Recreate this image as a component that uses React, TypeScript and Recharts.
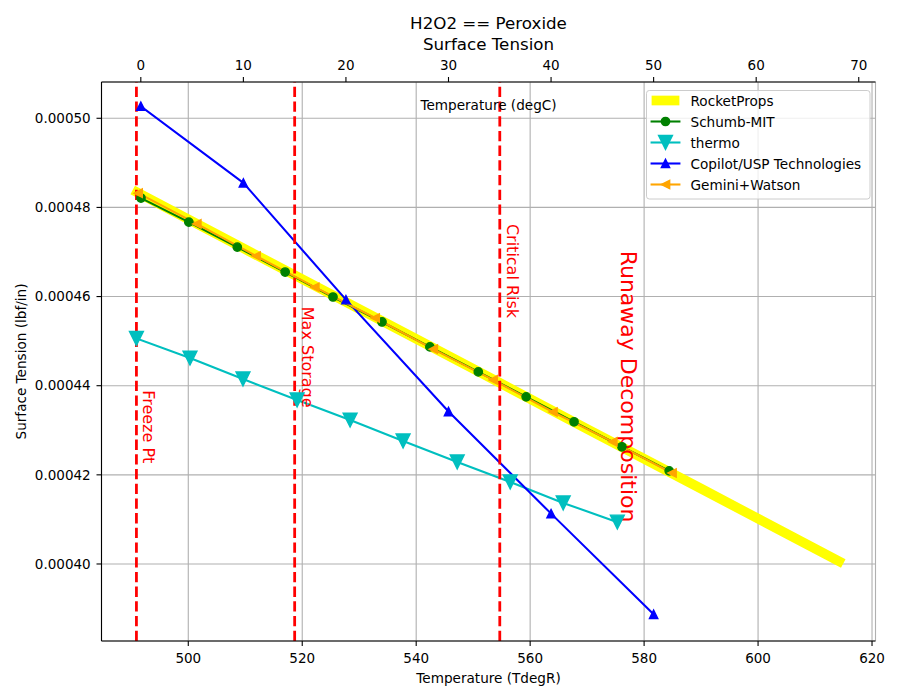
import React from 'react'
import {
  ComposedChart,
  Line,
  XAxis,
  YAxis,
  CartesianGrid,
  ReferenceLine,
  ReferenceDot,
  Legend,
} from 'recharts'

// temperatures in degR (Copilot in degC), surface tension in lbf/in
const rocketPropsT = [491.0, 510, 530, 550, 570, 590, 614.2]
const rocketPropsST = [0.0004834, 0.0004706, 0.0004572, 0.0004438, 0.0004303, 0.0004169, 0.0004006]

const schumbT = [491.7, 500.1, 508.6, 517.0, 525.4, 534.0, 542.4, 550.9, 559.3, 567.7, 576.1, 584.4]
const schumbST = [
  0.0004821, 0.0004767, 0.0004711, 0.0004655, 0.0004599, 0.0004543, 0.0004487, 0.0004431, 0.0004375,
  0.0004319, 0.0004263, 0.0004209,
]

const thermoT = [490.9, 500.3, 509.6, 519.1, 528.4, 537.7, 547.2, 556.5, 565.8, 575.3]
const thermoST = [
  0.0004506, 0.0004462, 0.0004415, 0.0004368, 0.0004323, 0.0004276, 0.0004229, 0.0004184, 0.0004137,
  0.0004094,
]

const copilotC = [0, 10, 20, 30, 40, 50]
const copilotST = [0.0005027, 0.0004855, 0.0004593, 0.0004342, 0.0004113, 0.0003887]

const geminiT = [491.2, 501.5, 511.9, 522.2, 532.8, 543.0, 553.5, 564.0, 574.5, 584.9]
const geminiST = [
  0.0004832, 0.0004763, 0.0004691, 0.0004621, 0.0004552, 0.0004482, 0.0004413, 0.0004341, 0.0004274,
  0.0004204,
]

// storage limits (degR) and where their notes sit (lbf/in)
const limitT = [490.9, 518.67, 554.67, 574.67]
const limitNames = ['Freeze Pt', 'Max Storage', 'Critical Risk', 'Runaway Decomposition']
const limitNoteST = [0.000439, 0.0004577, 0.0004763, 0.0004703]
const limitHasLine = [true, true, true, false]
const limitFontSize = [16, 16, 16, 22]

const tempRTicks = [500, 520, 540, 560, 580, 600, 620]
const tempCTicks = [0, 10, 20, 30, 40, 50, 60, 70]
const stTicks = [0.0004, 0.00042, 0.00044, 0.00046, 0.00048, 0.0005]

const xDomainR: [number, number] = [484.77, 620.61]
const degRtoC = (r: number) => (r - 491.67) / 1.8
const xDomainC: [number, number] = [degRtoC(xDomainR[0]), degRtoC(xDomainR[1])]
const yDomain: [number, number] = [0.00038272, 0.00050814]

type MarkerKind = 'none' | 'o' | 'v' | '^' | '<'

interface SeriesDef {
  name: string
  color: string
  width: number
  marker: MarkerKind
  size: number
  axis: 'R' | 'C'
  temps: number[]
  values: number[]
}

const series: SeriesDef[] = [
  { name: 'RocketProps', color: '#ffff00', width: 9.7, marker: 'none', size: 0, axis: 'R', temps: rocketPropsT, values: rocketPropsST },
  { name: 'Schumb-MIT', color: '#008000', width: 2.08, marker: 'o', size: 4.17, axis: 'R', temps: schumbT, values: schumbST },
  { name: 'thermo', color: '#00bfbf', width: 2.08, marker: 'v', size: 6.95, axis: 'R', temps: thermoT, values: thermoST },
  { name: 'Copilot/USP Technologies', color: '#0000ff', width: 2.08, marker: '^', size: 4.17, axis: 'C', temps: copilotC, values: copilotST },
  { name: 'Gemini+Watson', color: '#ffa500', width: 2.08, marker: '<', size: 4.17, axis: 'R', temps: geminiT, values: geminiST },
]

function drawMarker(kind: MarkerKind, cx: number, cy: number, s: number, color: string, key?: React.Key) {
  const common = { fill: color, stroke: color, strokeWidth: 1.39, strokeLinejoin: 'miter' as const }
  if (kind === 'o') return <circle key={key} cx={cx} cy={cy} r={s} {...common} />
  let pts = ''
  if (kind === 'v') pts = `${cx - s},${cy - s} ${cx + s},${cy - s} ${cx},${cy + s}`
  if (kind === '^') pts = `${cx - s},${cy + s} ${cx + s},${cy + s} ${cx},${cy - s}`
  if (kind === '<') pts = `${cx + s},${cy - s} ${cx + s},${cy + s} ${cx - s},${cy}`
  if (!pts) return <g key={key} />
  return <polygon key={key} points={pts} {...common} />
}

function LegendBox() {
  const rowH = 21
  return (
    <svg width={226} height={111} style={{ display: 'block' }}>
      <rect x={0.5} y={0.5} width={223.5} height={108.5} rx={2.8} fill="#ffffff" fillOpacity={0.8} stroke="#cccccc" strokeWidth={1} />
      {series.map((s, i) => {
        const cy = 10.5 + i * rowH
        return (
          <g key={s.name}>
            <line
              x1={5.6}
              x2={33.4}
              y1={cy}
              y2={cy}
              stroke={s.color}
              strokeWidth={s.width}
              strokeLinecap={s.marker === 'none' ? 'butt' : 'square'}
            />
            {drawMarker(s.marker, 19.5, cy, s.size, s.color)}
            <text x={44.5} y={cy} dominantBaseline="central" fontSize={13.6} fill="#000">
              {s.name}
            </text>
          </g>
        )
      })}
    </svg>
  )
}

export default function App() {
  const font = { fill: '#000', fontSize: 13.5 }

  return (
    <div
      style={{
        position: 'absolute',
        left: 0,
        top: 0,
        width: 900,
        height: 700,
        background: '#ffffff',
        fontFamily: '"DejaVu Sans", sans-serif',
      }}
    >
      <ComposedChart width={900} height={700} margin={{ top: 0, right: 24.5, bottom: 0, left: 0 }}>
        <CartesianGrid xAxisId="R" stroke="#b0b0b0" strokeWidth={1.1} />
        <XAxis
          xAxisId="R"
          dataKey="t"
          type="number"
          orientation="bottom"
          domain={xDomainR}
          allowDataOverflow
          ticks={tempRTicks}
          interval={0}
          height={59}
          tickSize={5}
          tickMargin={7.7}
          tick={font}
          axisLine={{ stroke: '#000', strokeWidth: 1.1 }}
          tickLine={{ stroke: '#000', strokeWidth: 1.1 }}
          label={(p: any) => {
            const vb = p.viewBox
            return (
              <text x={vb.x + vb.width / 2} y={683} textAnchor="middle" fontSize={13.6} fill="#000">
                Temperature (TdegR)
              </text>
            )
          }}
        />
        <XAxis
          xAxisId="C"
          dataKey="t"
          type="number"
          orientation="top"
          domain={xDomainC}
          allowDataOverflow
          ticks={tempCTicks}
          interval={0}
          height={82}
          tickSize={5}
          tickMargin={7}
          tick={font}
          axisLine={{ stroke: '#000', strokeWidth: 1.1 }}
          tickLine={{ stroke: '#000', strokeWidth: 1.1 }}
          label={(p: any) => {
            const vb = p.viewBox
            const cx = vb.x + vb.width / 2
            return (
              <g>
                <text x={cx} y={29.3} textAnchor="middle" fontSize={16.7} fill="#000">
                  H2O2 == Peroxide
                </text>
                <text x={cx} y={50.3} textAnchor="middle" fontSize={16.7} fill="#000">
                  Surface Tension
                </text>
                <text x={cx} y={109.5} textAnchor="middle" fontSize={13.6} fill="#000">
                  Temperature (degC)
                </text>
              </g>
            )
          }}
        />
        <YAxis
          type="number"
          domain={yDomain}
          allowDataOverflow
          ticks={stTicks}
          interval={0}
          width={101.5}
          tickSize={5}
          tickMargin={5.8}
          tick={font}
          tickFormatter={(v: number) => v.toFixed(5)}
          axisLine={{ stroke: '#000', strokeWidth: 1.1 }}
          tickLine={{ stroke: '#000', strokeWidth: 1.1 }}
          label={(p: any) => {
            const vb = p.viewBox
            const cy = vb.y + vb.height / 2
            return (
              <text x={26} y={cy} transform={`rotate(-90 26 ${cy})`} textAnchor="middle" fontSize={13.6} fill="#000">
                Surface Tension (lbf/in)
              </text>
            )
          }}
        />
        <YAxis
          yAxisId="frame"
          orientation="right"
          type="number"
          domain={yDomain}
          width={0}
          tick={false}
          tickLine={false}
          axisLine={{ stroke: '#000', strokeWidth: 1.1 }}
        />

        {series.map((s) => (
          <Line
            key={s.name}
            name={s.name}
            xAxisId={s.axis}
            data={s.temps.map((t, i) => ({ t, st: s.values[i] }))}
            dataKey="st"
            type="linear"
            stroke={s.color}
            strokeWidth={s.width}
            strokeLinecap="square"
            strokeLinejoin="round"
            dot={
              s.marker === 'none'
                ? false
                : (p: any) => drawMarker(s.marker, p.cx, p.cy, s.size, s.color, p.index)
            }
            activeDot={false}
            isAnimationActive={false}
          />
        ))}

        {limitT.map((t, i) =>
          limitHasLine[i] ? (
            <ReferenceLine
              key={`line-${i}`}
              xAxisId="R"
              x={t}
              stroke="#ff0000"
              strokeWidth={2.78}
              strokeDasharray="10.3 4.4"
            />
          ) : null,
        )}
        {limitT.map((t, i) => (
          <ReferenceDot
            key={`note-${i}`}
            xAxisId="R"
            x={t}
            y={limitNoteST[i]}
            r={0}
            shape={(p: any) => {
              const x = p.cx + 7
              const y = p.cy
              return (
                <text x={x} y={y} transform={`rotate(90 ${x} ${y})`} fontSize={limitFontSize[i]} fill="#ff0000">
                  {limitNames[i]}
                </text>
              )
            }}
          />
        ))}

        <Legend
          layout="vertical"
          align="center"
          verticalAlign="middle"
          wrapperStyle={{ left: 645.5, top: 89.5, width: 226, height: 111 }}
          content={() => <LegendBox />}
        />
      </ComposedChart>
    </div>
  )
}
